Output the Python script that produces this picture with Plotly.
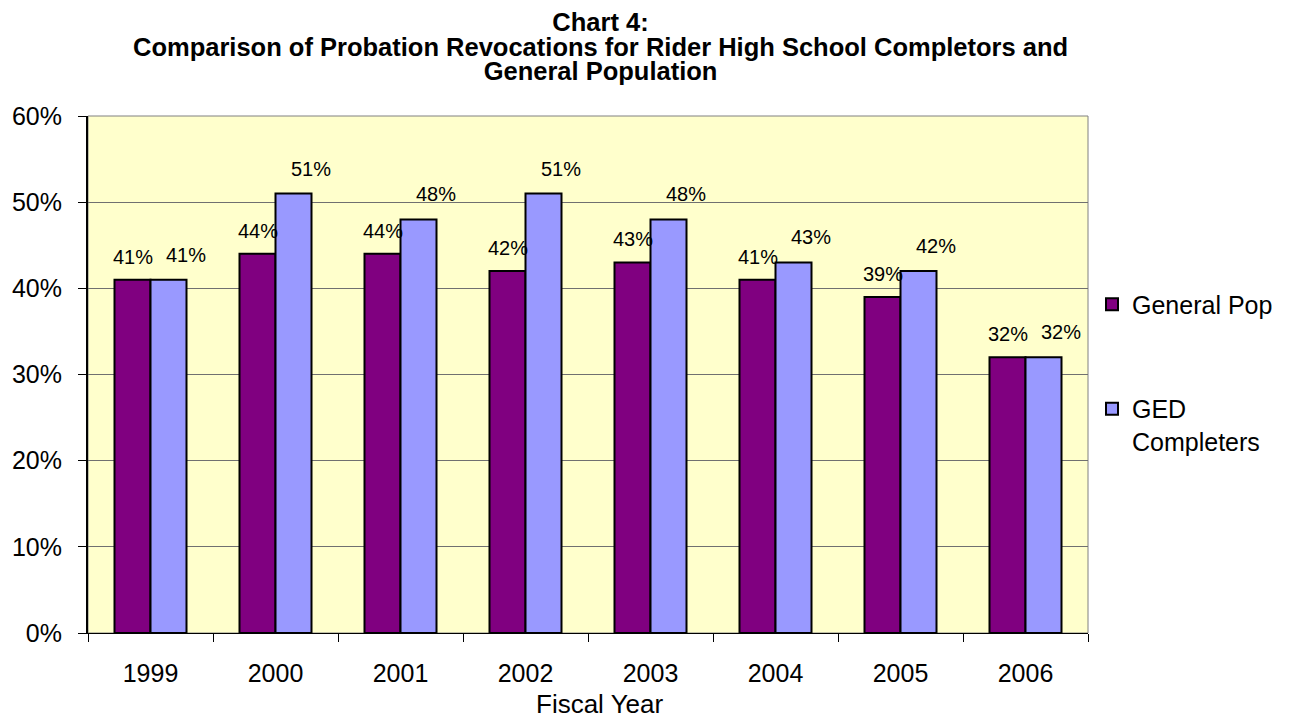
import plotly.graph_objects as go

years = ["1999", "2000", "2001", "2002", "2003", "2004", "2005", "2006"]
general_pop = [41, 44, 44, 42, 43, 41, 39, 32]
ged_completers = [41, 51, 48, 51, 48, 43, 42, 32]
series_names = ["General Pop", "GED<br>Completers"]
title_lines = ["Chart 4:",
               "Comparison of Probation Revocations for Rider High School Completors and",
               "General Population"]
y_ticks = [0, 10, 20, 30, 40, 50, 60]
y_tick_text = [f"{v}%" for v in y_ticks]
x_title = "Fiscal Year"

FONT = "Liberation Sans, Arial, sans-serif"

fig = go.Figure()
fig.add_trace(go.Bar(
    x=years, y=general_pop, name=series_names[0], legendgroup="a",
    marker=dict(color="#800080", line=dict(color="#000000", width=2)),
))
fig.add_trace(go.Bar(
    x=years, y=ged_completers, name=series_names[1], legendgroup="b",
    marker=dict(color="#9999FF", line=dict(color="#000000", width=2)),
))

annotations = []
# category axis: annotation x given as category index
for i, v in enumerate(general_pop):
    annotations.append(dict(x=i, y=v, xref="x", yref="y", text=f"{v}%",
                            showarrow=False, xshift=-18, yshift=23,
                            yanchor="middle",
                            font=dict(family=FONT, size=20, color="#000")))
for i, v in enumerate(ged_completers):
    annotations.append(dict(x=i, y=v, xref="x", yref="y", text=f"{v}%",
                            showarrow=False, xshift=35, yshift=25,
                            yanchor="middle",
                            font=dict(family=FONT, size=20, color="#000")))
# title: one text block, small base size for tight line spacing, large glyphs via span
title_text = "<br>".join(
    f"<span style='font-size:25.5px'><b>{line}</b></span>" for line in title_lines)
annotations.append(dict(x=0.512, y=1, xref="paper", yref="paper",
                        text=title_text, showarrow=False,
                        yshift=70, yanchor="middle", xanchor="center",
                        font=dict(family=FONT, size=19, color="#000")))
annotations.append(dict(x=0.512, y=0, xref="paper", yref="paper",
                        text=x_title, showarrow=False, yshift=-71,
                        yanchor="middle", xanchor="center",
                        font=dict(family=FONT, size=26, color="#000")))

fig.update_layout(
    width=1300, height=717,
    margin=dict(l=80, r=220, t=108, b=92),
    paper_bgcolor="#FFFFFF",
    plot_bgcolor="#FFFFCC",
    barmode="group",
    bargap=0.424,
    bargroupgap=0,
    font=dict(family=FONT, size=25, color="#000"),
    showlegend=True,
    legend=dict(
        x=1.004, y=0.68, xanchor="left", yanchor="top",
        font=dict(family=FONT, size=25, color="#000"),
        tracegroupgap=69, valign="top",
        bgcolor="rgba(0,0,0,0)",
    ),
    annotations=annotations,
    shapes=[dict(type="rect", xref="paper", yref="paper", x0=0, x1=1, y0=0, y1=1,
                 line=dict(color="#808080", width=1), layer="below")],
    xaxis=dict(
        type="category", showgrid=False,
        showline=True, linecolor="#000000", linewidth=1,
        ticks="outside", ticklen=8, tickcolor="#000000",
        tickson="boundaries", ticklabelstandoff=18,
        tickfont=dict(family=FONT, size=25),
        automargin=False,
    ),
    yaxis=dict(
        range=[0, 60], tickmode="array", tickvals=y_ticks, ticktext=y_tick_text,
        showgrid=True, gridcolor="#707070", gridwidth=1,
        showline=True, linecolor="#000000", linewidth=2,
        ticks="outside", ticklen=8, tickcolor="#000000",
        ticklabelstandoff=11,
        tickfont=dict(family=FONT, size=25),
        zeroline=False, automargin=False,
    ),
)

fig.write_html("out.html")
